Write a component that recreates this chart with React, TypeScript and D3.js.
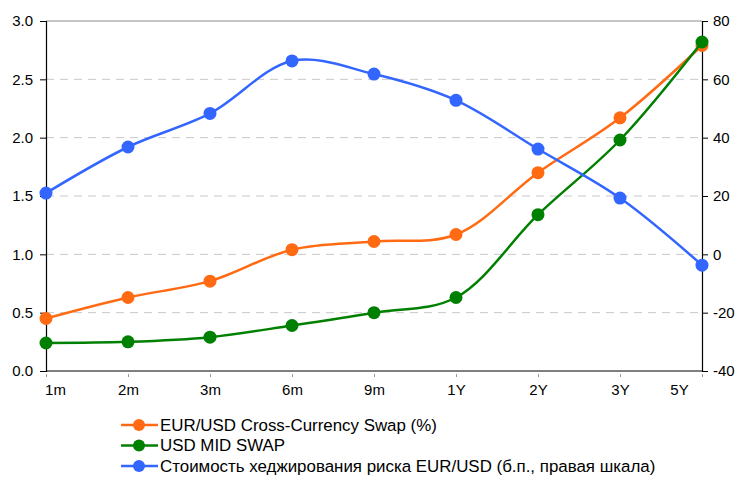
import { useEffect, useRef } from "react";
import * as d3 from "d3";

const categories = ["1m", "2m", "3m", "6m", "9m", "1Y", "2Y", "3Y", "5Y"];
const crossCurrency = [0.45, 0.63, 0.77, 1.04, 1.11, 1.17, 1.7, 2.17, 2.79];
const usdMidSwap = [0.24, 0.25, 0.29, 0.39, 0.5, 0.63, 1.34, 1.98, 2.82];
const hedgeCost = [21.0, 36.8, 48.3, 66.3, 61.8, 52.8, 36.1, 19.3, -3.7];

const leftTicks = [0, 0.5, 1, 1.5, 2, 2.5, 3];
const rightTicks = [-40, -20, 0, 20, 40, 60, 80];

const legendLabels = [
  "EUR/USD Cross-Currency Swap (%)",
  "USD MID SWAP",
  "Стоимость хеджирования риска EUR/USD (б.п., правая шкала)",
];

const orange = "#ff6a13";
const green = "#008000";
const blue = "#3366ff";
const font = "'Liberation Sans', Arial, sans-serif";

const App = () => {
  const ref = useRef<SVGSVGElement>(null);

  useEffect(() => {
    const svg = d3.select(ref.current);
    svg.selectAll("*").remove();

    const x = d3.scalePoint().domain(categories).range([46, 702]);
    const yL = d3.scaleLinear().domain([0, 3]).range([371, 21]);
    const yR = d3.scaleLinear().domain([-40, 80]).range([371, 21]);

    // gridlines
    svg.append("g")
      .selectAll("line")
      .data(leftTicks.filter(t => t > 0 && t < 3))
      .join("line")
      .attr("x1", 46).attr("x2", 702)
      .attr("y1", d => yL(d)).attr("y2", d => yL(d))
      .attr("stroke", "#c8c8c8")
      .attr("stroke-dasharray", "8,6");

    svg.append("line")
      .attr("x1", 46).attr("x2", 702)
      .attr("y1", yL(3)).attr("y2", yL(3))
      .attr("stroke", "#8c8c8c");

    const leftAxis = d3.axisLeft(yL).tickValues(leftTicks).tickFormat(d3.format(".1f")).tickSize(6).tickPadding(7);
    const rightAxis = d3.axisRight(yR).tickValues(rightTicks).tickFormat(d => String(d)).tickSize(6).tickPadding(5);
    const bottomAxis = d3.axisBottom(x).tickSize(3).tickPadding(10);

    const gl = svg.append("g").attr("transform", "translate(46,0)").call(leftAxis);
    const gr = svg.append("g").attr("transform", "translate(702,0)").call(rightAxis);
    const gb = svg.append("g").attr("transform", "translate(0,371)").call(bottomAxis);

    [gl, gr, gb].forEach(g => {
      g.select(".domain").attr("stroke", "#000").attr("stroke-width", 1.2);
      g.selectAll(".tick line").attr("stroke", "#000");
      g.selectAll("text").attr("font-family", font).attr("font-size", 15).attr("fill", "#000");
    });
    gb.select(".domain").attr("d", "M46,0H702");
    gb.selectAll(".tick line").attr("stroke", "#999").attr("transform", "translate(0,3)");
    // first and last category labels sit inside the plot like in the original
    gb.selectAll<SVGTextElement, string>(".tick text")
      .attr("dx", d => d === categories[0] ? 9 : d === categories[categories.length - 1] ? -23 : 0);

    const series = [
      { values: crossCurrency, color: orange, y: yL },
      { values: usdMidSwap, color: green, y: yL },
      { values: hedgeCost, color: blue, y: yR },
    ];

    series.forEach(s => {
      const line = d3.line<number>()
        .x((_, i) => x(categories[i]) as number)
        .y(d => s.y(d))
        .curve(d3.curveCatmullRom.alpha(0.5));
      svg.append("path")
        .datum(s.values)
        .attr("d", line)
        .attr("fill", "none")
        .attr("stroke", s.color)
        .attr("stroke-width", 2.5);
      svg.append("g")
        .selectAll("circle")
        .data(s.values)
        .join("circle")
        .attr("cx", (_, i) => x(categories[i]) as number)
        .attr("cy", d => s.y(d))
        .attr("r", 6.5)
        .attr("fill", s.color);
    });

    // legend
    const legend = svg.append("g").attr("transform", "translate(121,425)");
    legendLabels.forEach((label, i) => {
      const g = legend.append("g").attr("transform", `translate(0,${i * 20.5})`);
      g.append("line").attr("x1", 0).attr("x2", 37).attr("y1", 0).attr("y2", 0)
        .attr("stroke", series[i].color).attr("stroke-width", 2.5);
      g.append("circle").attr("cx", 18).attr("cy", 0).attr("r", 6).attr("fill", series[i].color);
      g.append("text").attr("x", 39).attr("y", 0).attr("dy", "0.35em")
        .attr("font-family", font).attr("font-size", 16.9).attr("fill", "#000")
        .text(label);
    });
  }, []);

  return (
    <svg ref={ref} width={740} height={477}
      style={{ position: "absolute", left: 0, top: 0, background: "#fff" }} />
  );
};

export default App;
